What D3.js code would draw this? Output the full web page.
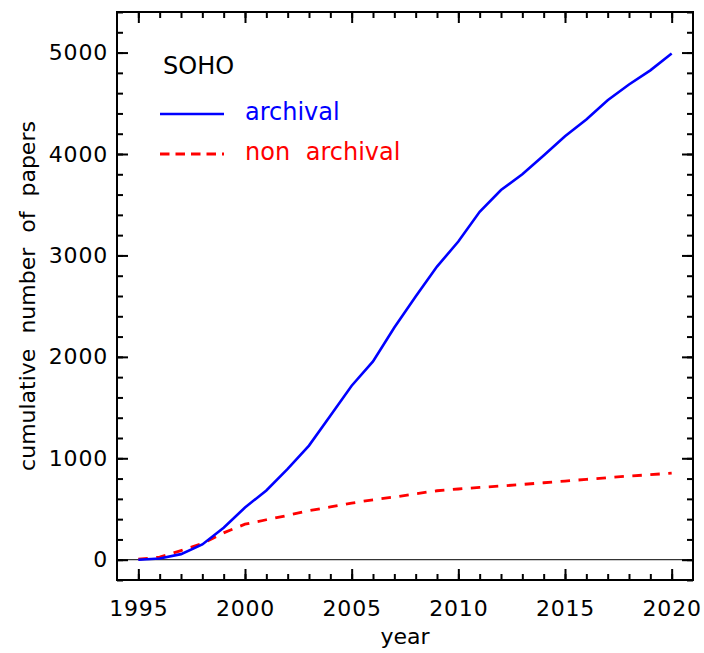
<!DOCTYPE html>
<html>
<head>
<meta charset="utf-8">
<script src="https://cdn.jsdelivr.net/npm/d3@7"></script>
<style>
  body { margin: 0; background: #fff; }
  text { font-family: 'DejaVu Sans', sans-serif; }
</style>
</head>
<body>
<svg id="chart" width="704" height="653"></svg>
<script>
// data
const years = [1995, 1996, 1997, 1998, 1999, 2000, 2001, 2002, 2003, 2004, 2005, 2006, 2007,
  2008, 2009, 2010, 2011, 2012, 2013, 2014, 2015, 2016, 2017, 2018, 2019, 2020]
const archival = [0, 12, 55, 150, 315, 515, 683, 895, 1125, 1420, 1715, 1955, 2290,
  2595, 2890, 3137, 3430, 3645, 3800, 3985, 4175, 4340, 4530, 4685, 4825, 4990]
const nonArchival = [5, 25, 90, 160, 265, 350, 394, 437, 484, 520, 558, 591, 618,
  650, 680, 697, 713, 727, 742, 759, 775, 792, 808, 825, 838, 854]
const xMajorTicks = [1995, 2000, 2005, 2010, 2015, 2020]
const yMajorTicks = [0, 1000, 2000, 3000, 4000, 5000]

const width = 704
const height = 653
const margin = { top: 12, right: 11, bottom: 73, left: 117 }

const svg = d3.select('#chart')

const x = d3.scaleLinear()
  .domain([1994, 2021])
  .range([margin.left, width - margin.right])

const y = d3.scaleLinear()
  .domain([-200, 5400])
  .range([height - margin.bottom, margin.top])

const x0 = margin.left
const x1 = width - margin.right
const y0 = height - margin.bottom
const y1 = margin.top

// zero line
svg.append('line')
  .attr('x1', x0).attr('x2', x1)
  .attr('y1', y(0)).attr('y2', y(0))
  .attr('stroke', '#000')
  .attr('stroke-width', 1)

// curves
const line = d3.line()
  .x((d, i) => x(years[i]))
  .y((d) => y(d))

svg.append('path')
  .datum(nonArchival)
  .attr('fill', 'none')
  .attr('stroke', '#ff0000')
  .attr('stroke-width', 2.8)
  .attr('stroke-dasharray', '9.5,8.5')
  .attr('d', line)

svg.append('path')
  .datum(archival)
  .attr('fill', 'none')
  .attr('stroke', '#0000ff')
  .attr('stroke-width', 2.6)
  .attr('d', line)

// axes: major + minor ticks pointing inward on all four sides
const xMinor = d3.range(1995, 2021)
const yMinor = d3.range(-200, 5401, 200)

function styleAxis(g) {
  g.select('.domain').remove()
  g.selectAll('.tick line').attr('stroke', '#000').attr('stroke-width', 2)
  g.selectAll('.tick text')
    .attr('fill', '#000')
    .attr('font-size', 22)
    .attr('letter-spacing', 0.8)
    .attr('font-family', "'DejaVu Sans', sans-serif")
}

svg.append('g')
  .attr('transform', `translate(0,${y0})`)
  .call(d3.axisBottom(x).tickValues(xMinor).tickSize(-6).tickFormat(''))
  .call(styleAxis)
svg.append('g')
  .attr('transform', `translate(0,${y0})`)
  .call(d3.axisBottom(x).tickValues(xMajorTicks).tickSize(-11).tickPadding(20).tickFormat(d3.format('d')))
  .call(styleAxis)
svg.append('g')
  .attr('transform', `translate(0,${y1})`)
  .call(d3.axisTop(x).tickValues(xMinor).tickSize(-6).tickFormat(''))
  .call(styleAxis)
svg.append('g')
  .attr('transform', `translate(0,${y1})`)
  .call(d3.axisTop(x).tickValues(xMajorTicks).tickSize(-11).tickFormat(''))
  .call(styleAxis)

svg.append('g')
  .attr('transform', `translate(${x0},0)`)
  .call(d3.axisLeft(y).tickValues(yMinor).tickSize(-6).tickFormat(''))
  .call(styleAxis)
svg.append('g')
  .attr('transform', `translate(${x0},0)`)
  .call(d3.axisLeft(y).tickValues(yMajorTicks).tickSize(-11).tickPadding(9).tickFormat(d3.format('d')))
  .call(styleAxis)
svg.append('g')
  .attr('transform', `translate(${x1},0)`)
  .call(d3.axisRight(y).tickValues(yMinor).tickSize(-6).tickFormat(''))
  .call(styleAxis)
svg.append('g')
  .attr('transform', `translate(${x1},0)`)
  .call(d3.axisRight(y).tickValues(yMajorTicks).tickSize(-11).tickFormat(''))
  .call(styleAxis)

// frame
svg.append('rect')
  .attr('x', x0).attr('y', y1)
  .attr('width', x1 - x0).attr('height', y0 - y1)
  .attr('fill', 'none')
  .attr('stroke', '#000')
  .attr('stroke-width', 2)

// axis titles
svg.append('text')
  .attr('x', (x0 + x1) / 2)
  .attr('y', 644)
  .attr('text-anchor', 'middle')
  .attr('font-size', 22)
  .text('year')

svg.append('text')
  .attr('transform', `translate(35,${(y0 + y1) / 2}) rotate(-90)`)
  .attr('text-anchor', 'middle')
  .attr('font-size', 22)
  .attr('word-spacing', 8)
  .text('cumulative number of papers')

// legend
const legend = svg.append('g').attr('id', 'legend')
legend.append('text')
  .attr('x', 163).attr('y', 74)
  .attr('font-size', 24)
  .text('SOHO')
legend.append('line')
  .attr('x1', 160).attr('x2', 224)
  .attr('y1', 114).attr('y2', 114)
  .attr('stroke', '#0000ff').attr('stroke-width', 2.6)
legend.append('text')
  .attr('x', 245).attr('y', 120)
  .attr('font-size', 24)
  .attr('fill', '#0000ff')
  .text('archival')
legend.append('line')
  .attr('x1', 160).attr('x2', 224)
  .attr('y1', 154).attr('y2', 154)
  .attr('stroke', '#ff0000').attr('stroke-width', 2.8)
  .attr('stroke-dasharray', '9.5,6')
legend.append('text')
  .attr('x', 245).attr('y', 160)
  .attr('font-size', 24)
  .attr('word-spacing', 8)
  .attr('fill', '#ff0000')
  .text('non archival')
</script>
</body>
</html>
